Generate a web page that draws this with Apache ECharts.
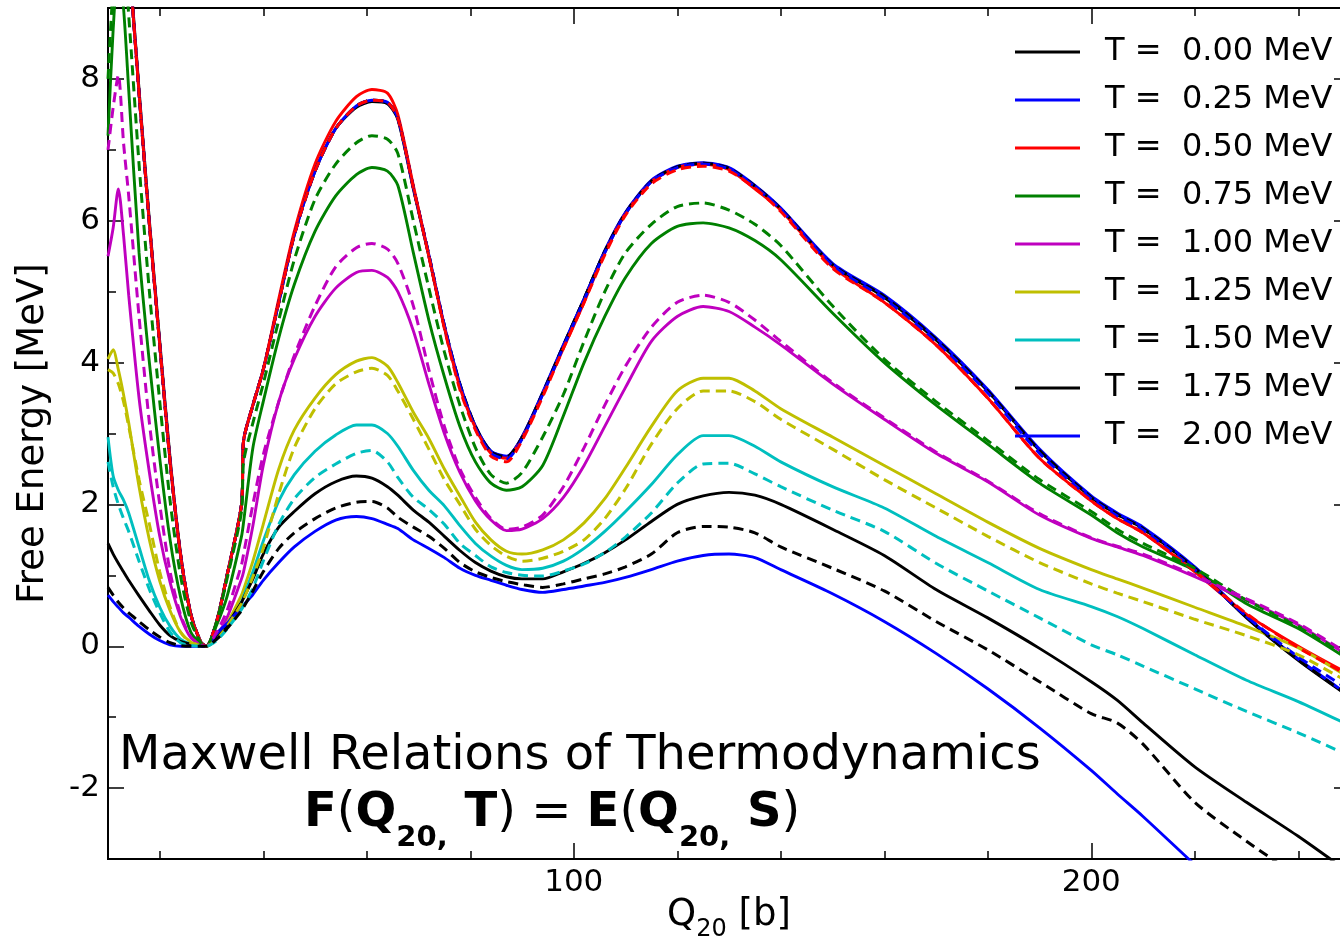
<!DOCTYPE html>
<html>
<head>
<meta charset="utf-8">
<script src="https://cdn.jsdelivr.net/npm/echarts@6/dist/echarts.min.js"></script>
<style>
  html, body { margin: 0; padding: 0; background: #ffffff; }
  #chart { width: 1340px; height: 943px; }
</style>
</head>
<body>
<div id="chart"></div>
<script>
// Quadrupole moment grid Q20 [b]
const q20 = [10, 11, 12, 13, 14, 16, 18, 20, 22, 24, 26, 28, 29,
  31, 33, 35.8, 36.2, 38, 40, 43, 46, 50, 54, 58, 61,
  64, 66, 69, 72, 75, 78, 81, 84, 87, 90, 94, 98,
  102, 106, 110, 115, 120, 125, 130, 135, 140,
  150, 160, 170, 180, 190, 200, 205, 210, 220, 230, 240, 250];

// Free energy F(Q20, T) [MeV], solid curves
const f000 = [13.6, 12.7, 11.7, 10.8, 9.8, 7.85, 6.0, 4.3, 2.65, 1.32, 0.46, 0.05, 0,
  0.35, 1.0, 2.0, 2.9, 3.4, 3.9, 4.85, 5.8, 6.7, 7.3, 7.6, 7.68,
  7.65, 7.43, 6.45, 5.5, 4.5, 3.68, 3.1, 2.75, 2.67, 2.95, 3.57, 4.24,
  4.9, 5.57, 6.11, 6.56, 6.76, 6.81, 6.74, 6.48, 6.17,
  5.38, 4.92, 4.32, 3.6, 2.76, 2.1, 1.86, 1.66, 1.1, 0.4, -0.2, -0.72];
const f025 = [13.5, 12.6, 11.6, 10.7, 9.75, 7.8, 5.95, 4.25, 2.6, 1.3, 0.45, 0.05, 0,
  0.35, 1.0, 2.0, 2.9, 3.4, 3.9, 4.85, 5.8, 6.7, 7.3, 7.62, 7.7,
  7.67, 7.45, 6.47, 5.52, 4.52, 3.7, 3.1, 2.75, 2.68, 2.95, 3.58, 4.25,
  4.9, 5.58, 6.12, 6.57, 6.77, 6.82, 6.75, 6.5, 6.18,
  5.4, 4.95, 4.35, 3.62, 2.78, 2.12, 1.88, 1.68, 1.12, 0.42, -0.18, -0.7];
const f050 = [13.5, 12.6, 11.6, 10.7, 9.75, 7.8, 5.95, 4.25, 2.6, 1.3, 0.45, 0.05, 0,
  0.35, 1.0, 2.0, 2.9, 3.4, 3.9, 4.9, 5.85, 6.8, 7.4, 7.75, 7.85,
  7.8, 7.5, 6.5, 5.5, 4.5, 3.65, 3.08, 2.72, 2.65, 2.93, 3.55, 4.2,
  4.85, 5.55, 6.1, 6.55, 6.75, 6.8, 6.72, 6.45, 6.15,
  5.35, 4.85, 4.25, 3.5, 2.65, 2.05, 1.8, 1.6, 1.05, 0.45, 0.0, -0.4];
const f075 = [7.2, 8.7, 9.6, 9.0, 7.85, 5.55, 4.0, 2.65, 1.5, 0.7, 0.2, 0.03, 0,
  0.3, 0.7, 1.55, 1.75, 2.8, 3.45, 4.35, 5.1, 5.85, 6.35, 6.65, 6.75,
  6.7, 6.5, 5.55, 4.6, 3.8, 3.1, 2.6, 2.3, 2.2, 2.25, 2.55, 3.25,
  4.0, 4.65, 5.2, 5.68, 5.92, 5.97, 5.9, 5.72, 5.45,
  4.7, 4.0, 3.4, 2.85, 2.3, 1.85, 1.6, 1.4, 1.07, 0.6, 0.25, -0.2];
const f100 = [5.5, 5.9, 6.45, 5.8, 4.95, 3.5, 2.45, 1.55, 0.9, 0.42, 0.12, 0.02, 0,
  0.15, 0.4, 0.95, 1.05, 1.7, 2.55, 3.45, 4.05, 4.65, 5.05, 5.27, 5.3,
  5.2, 5.0, 4.45, 3.7, 3.0, 2.45, 2.05, 1.78, 1.63, 1.65, 1.8, 2.1,
  2.55, 3.1, 3.65, 4.3, 4.65, 4.79, 4.72, 4.5, 4.25,
  3.7, 3.2, 2.72, 2.32, 1.85, 1.52, 1.4, 1.28, 0.98, 0.65, 0.3, -0.15];
const f125 = [4.05, 4.18, 3.9, 3.55, 3.15, 2.25, 1.5, 0.92, 0.5, 0.2, 0.06, 0.01, 0,
  0.12, 0.32, 0.72, 0.8, 1.2, 1.72, 2.5, 3.05, 3.5, 3.83, 4.02, 4.07,
  3.95, 3.72, 3.3, 2.93, 2.5, 2.12, 1.75, 1.5, 1.34, 1.3, 1.36, 1.5,
  1.74, 2.08, 2.52, 3.1, 3.6, 3.78, 3.78, 3.6, 3.35,
  2.95, 2.55, 2.15, 1.75, 1.38, 1.08, 0.95, 0.82, 0.55, 0.28, -0.02, -0.45];
const f150 = [2.95, 2.4, 2.2, 2.06, 1.88, 1.4, 0.92, 0.55, 0.28, 0.1, 0.03, 0, 0,
  0.1, 0.28, 0.62, 0.7, 1.05, 1.48, 2.05, 2.42, 2.75, 2.98, 3.12, 3.12,
  3.0, 2.82, 2.48, 2.2, 1.98, 1.7, 1.45, 1.27, 1.14, 1.08, 1.1, 1.2,
  1.38, 1.62, 1.9, 2.28, 2.7, 2.97, 2.97, 2.82, 2.6,
  2.25, 1.95, 1.55, 1.18, 0.8, 0.56, 0.42, 0.25, -0.12, -0.48, -0.78, -1.12];
const f175 = [1.45, 1.3, 1.17, 1.05, 0.93, 0.71, 0.5, 0.3, 0.15, 0.07, 0.03, 0.01, 0,
  0.12, 0.3, 0.62, 0.68, 0.95, 1.3, 1.68, 1.9, 2.15, 2.32, 2.4, 2.37,
  2.25, 2.13, 1.92, 1.75, 1.55, 1.35, 1.18, 1.06, 0.98, 0.95, 0.95, 1.05,
  1.17, 1.32, 1.5, 1.76, 2.0, 2.12, 2.17, 2.13, 2.0,
  1.65, 1.28, 0.8, 0.4, -0.03, -0.5, -0.76, -1.08, -1.7, -2.2, -2.68, -3.2];
const f200 = [0.72, 0.63, 0.55, 0.47, 0.41, 0.28, 0.17, 0.08, 0.02, 0, 0, 0, 0,
  0.18, 0.32, 0.55, 0.58, 0.73, 0.93, 1.18, 1.4, 1.62, 1.78, 1.83, 1.8,
  1.72, 1.66, 1.5, 1.38, 1.25, 1.1, 1.0, 0.93, 0.86, 0.8, 0.76, 0.8,
  0.85, 0.9, 0.97, 1.08, 1.2, 1.28, 1.3, 1.25, 1.08,
  0.74, 0.35, -0.1, -0.6, -1.15, -1.75, -2.08, -2.4, -3.08, -3.75, -4.4, -5.1];

// Energy E(Q20, S) at the matching entropy [MeV], dashed curves
const e000 = [13.5, 12.6, 11.6, 10.7, 9.75, 7.8, 5.95, 4.25, 2.6, 1.3, 0.45, 0.05, 0,
  0.35, 1.0, 2.0, 2.9, 3.4, 3.9, 4.85, 5.8, 6.7, 7.3, 7.62, 7.7,
  7.67, 7.45, 6.47, 5.52, 4.52, 3.7, 3.1, 2.74, 2.67, 2.94, 3.57, 4.24,
  4.9, 5.57, 6.11, 6.56, 6.76, 6.81, 6.74, 6.49, 6.17,
  5.38, 4.93, 4.33, 3.6, 2.76, 2.1, 1.86, 1.66, 1.1, 0.41, -0.19, -0.71];
const e025 = [13.5, 12.6, 11.6, 10.7, 9.75, 7.8, 5.95, 4.25, 2.6, 1.3, 0.45, 0.05, 0,
  0.35, 1.0, 2.0, 2.9, 3.4, 3.9, 4.85, 5.8, 6.7, 7.3, 7.62, 7.7,
  7.67, 7.45, 6.47, 5.52, 4.52, 3.68, 3.08, 2.72, 2.64, 2.92, 3.55, 4.22,
  4.88, 5.55, 6.1, 6.55, 6.75, 6.8, 6.73, 6.48, 6.16,
  5.37, 4.9, 4.3, 3.57, 2.72, 2.08, 1.84, 1.64, 1.08, 0.42, -0.15, -0.62];
const e050 = [13.5, 12.6, 11.6, 10.7, 9.75, 7.8, 5.95, 4.25, 2.6, 1.3, 0.45, 0.05, 0,
  0.35, 1.0, 2.0, 2.9, 3.4, 3.9, 4.85, 5.8, 6.7, 7.3, 7.62, 7.7,
  7.67, 7.45, 6.47, 5.5, 4.48, 3.62, 3.05, 2.68, 2.6, 2.9, 3.52, 4.2,
  4.85, 5.52, 6.08, 6.52, 6.72, 6.77, 6.7, 6.46, 6.13,
  5.33, 4.85, 4.25, 3.5, 2.65, 2.05, 1.8, 1.6, 1.06, 0.46, -0.02, -0.42];
const e075 = [8.0, 9.3, 10.0, 9.8, 8.9, 6.8, 5.0, 3.45, 2.05, 1.0, 0.35, 0.04, 0,
  0.35, 0.95, 1.9, 2.6, 3.15, 3.7, 4.6, 5.45, 6.3, 6.8, 7.1, 7.2,
  7.15, 6.95, 6.0, 5.05, 4.15, 3.4, 2.8, 2.42, 2.3, 2.45, 2.95, 3.55,
  4.3, 5.0, 5.55, 5.95, 6.2, 6.25, 6.15, 5.95, 5.65,
  4.8, 4.05, 3.45, 2.9, 2.35, 1.9, 1.65, 1.45, 1.1, 0.65, 0.28, -0.15];
const e100 = [7.0, 7.6, 8.05, 7.1, 6.35, 4.65, 3.15, 2.0, 1.05, 0.45, 0.13, 0.02, 0,
  0.2, 0.5, 1.15, 1.3, 2.0, 2.7, 3.45, 4.1, 4.8, 5.35, 5.62, 5.68,
  5.6, 5.4, 4.8, 3.9, 3.1, 2.5, 2.1, 1.8, 1.65, 1.68, 1.85, 2.25,
  2.8, 3.4, 3.95, 4.5, 4.85, 4.95, 4.85, 4.6, 4.3,
  3.72, 3.22, 2.74, 2.33, 1.87, 1.53, 1.41, 1.3, 1.0, 0.67, 0.32, -0.12];
const e125 = [3.9, 3.85, 3.7, 3.45, 3.1, 2.35, 1.72, 1.05, 0.55, 0.2, 0.05, 0.01, 0,
  0.1, 0.28, 0.6, 0.66, 0.98, 1.38, 2.15, 2.8, 3.35, 3.7, 3.87, 3.92,
  3.82, 3.6, 3.2, 2.78, 2.35, 2.0, 1.65, 1.42, 1.27, 1.2, 1.24, 1.34,
  1.5, 1.8, 2.22, 2.85, 3.35, 3.6, 3.6, 3.45, 3.2,
  2.78, 2.35, 1.95, 1.55, 1.18, 0.88, 0.75, 0.63, 0.38, 0.15, -0.12, -0.52];
const e150 = [2.6, 2.25, 2.0, 1.8, 1.62, 1.2, 0.8, 0.47, 0.2, 0.05, 0.01, 0, 0,
  0.08, 0.24, 0.52, 0.57, 0.82, 1.2, 1.72, 2.08, 2.38, 2.57, 2.72, 2.76,
  2.6, 2.38, 2.1, 1.93, 1.72, 1.45, 1.28, 1.12, 1.04, 1.0, 0.99, 1.06,
  1.16, 1.32, 1.54, 1.88, 2.3, 2.57, 2.58, 2.43, 2.25,
  1.92, 1.62, 1.17, 0.78, 0.4, 0.02, -0.12, -0.28, -0.6, -0.92, -1.22, -1.55];
const e175 = [0.83, 0.72, 0.62, 0.54, 0.47, 0.35, 0.23, 0.13, 0.05, 0.01, 0, 0, 0,
  0.1, 0.25, 0.5, 0.55, 0.78, 1.05, 1.38, 1.6, 1.8, 1.95, 2.03, 2.04,
  1.95, 1.82, 1.68, 1.55, 1.38, 1.18, 1.05, 0.97, 0.91, 0.87, 0.83, 0.88,
  0.95, 1.02, 1.12, 1.3, 1.6, 1.69, 1.68, 1.6, 1.4,
  1.1, 0.78, 0.35, -0.05, -0.5, -0.95, -1.08, -1.38, -2.2, -2.75, -3.25, -3.75];

// Temperatures and tick positions
const temperatures = ['0.00', '0.25', '0.50', '0.75', '1.00', '1.25', '1.50', '1.75', '2.00'];
const xMajorTicks = [100, 200];
const xMinorTicks = [20, 40, 60, 80, 120, 140, 160, 180, 220, 240];
const yMajorTicks = [-2, 0, 2, 4, 6, 8];
const yMinorTicks = [-1, 1, 3, 5, 7];

const solidCurves = [f000, f025, f050, f075, f100, f125, f150, f175, f200];
const dashedCurves = [e000, e025, e050, e075, e100, e125, e150, e175];
const lineColors = ['#000000', '#0000ff', '#ff0000', '#008000', '#bf00bf',
  '#bfbf00', '#00bfbf', '#000000', '#0000ff'];

const FONT = 'DejaVu Sans';
const legendName = t => 'T =  ' + t + ' MeV';
const pairs = ys => q20.map((q, i) => [q, ys[i]]);

// Text runs with sub-scripts: pieces laid out left to right on a shared baseline
const measureCtx = document.createElement('canvas').getContext('2d');
function textWidth(text, size, weight) {
  measureCtx.font = weight + ' ' + size + 'px "' + FONT + '"';
  return measureCtx.measureText(text).width;
}
function textRun(pieces, startX, baseline, centered) {
  const total = pieces.reduce((s, p) => s + textWidth(p.text, p.size, p.weight), 0);
  let x = centered ? startX - total / 2 : startX;
  return pieces.map(p => {
    const el = {
      type: 'text', x: x, y: baseline + (p.drop || 0) - 0.346 * p.size, z: 50, silent: true,
      style: { text: p.text, fontFamily: FONT, fontSize: p.size, fontWeight: p.weight,
               fill: '#000', align: 'left', verticalAlign: 'middle' }
    };
    x += textWidth(p.text, p.size, p.weight);
    return el;
  });
}
const B = 'bold', N = 'normal';
const formulaPieces = [
  { text: 'F', size: 48, weight: B }, { text: '(', size: 48, weight: N },
  { text: 'Q', size: 48, weight: B }, { text: '20,', size: 29, weight: B, drop: 19 },
  { text: ' T', size: 48, weight: B }, { text: ') = ', size: 48, weight: N },
  { text: 'E', size: 48, weight: B }, { text: '(', size: 48, weight: N },
  { text: 'Q', size: 48, weight: B }, { text: '20,', size: 29, weight: B, drop: 19 },
  { text: ' S', size: 48, weight: B }, { text: ')', size: 48, weight: N }
];
const xNamePieces = [
  { text: 'Q', size: 37, weight: N }, { text: '20', size: 24, weight: N, drop: 10 },
  { text: ' [b]', size: 37, weight: N }
];

const series = [];
solidCurves.forEach((ys, i) => {
  series.push({
    name: legendName(temperatures[i]), type: 'line', data: pairs(ys),
    symbol: 'none', smooth: 0.25, clip: true,
    lineStyle: { color: lineColors[i], width: 2.9, type: 'solid' },
    itemStyle: { color: lineColors[i] }
  });
});
dashedCurves.forEach((ys, i) => {
  series.push({
    name: 'E(S) ' + temperatures[i], type: 'line', data: pairs(ys),
    symbol: 'none', smooth: 0.25, clip: true,
    lineStyle: { color: lineColors[i], width: 3, type: [10, 6] },
    itemStyle: { color: lineColors[i] }
  });
});

const tickLine = { color: '#000', width: 1.5 };
const baseX = {
  type: 'value', min: 10, max: 250, splitLine: { show: false },
  axisLine: { show: false, onZero: false }, axisLabel: { show: false }
};
const baseY = {
  type: 'value', min: -3, max: 9, splitLine: { show: false },
  axisLine: { show: false, onZero: false }, axisLabel: { show: false }
};

const gridLeft = 108, gridRightEdge = 1350;

const chart = echarts.init(document.getElementById('chart'), null, { renderer: 'canvas' });
chart.setOption({
  animation: false,
  backgroundColor: '#ffffff',
  grid: { left: gridLeft, right: 1340 - gridRightEdge, top: 8, bottom: 84, show: true,
    containLabel: false, outerBoundsMode: 'none',
    borderColor: '#000', borderWidth: 2, backgroundColor: 'transparent' },
  title: [
    { text: 'Maxwell Relations of Thermodynamics', left: 119, top: 729, padding: 0,
      textStyle: { fontFamily: FONT, fontSize: 48, fontWeight: 'normal', color: '#000', lineHeight: 56 } }
  ],
  graphic: {
    elements: textRun(formulaPieces, 304, 830, false)
      .concat(textRun(xNamePieces, (gridLeft + gridRightEdge) / 2, 928, true))
  },
  legend: {
    data: temperatures.map(legendName),
    orient: 'vertical', left: 1015, top: 36, padding: 0,
    icon: 'rect', itemWidth: 65, itemHeight: 3, itemGap: 16, selectedMode: false,
    textStyle: { fontFamily: FONT, fontSize: 32, color: '#000', lineHeight: 32, padding: [0, 0, 0, 20] }
  },
  xAxis: [
    Object.assign({}, baseX, {
      position: 'bottom',
      axisTick: { show: true, inside: true, length: 16, customValues: xMajorTicks, lineStyle: tickLine },
      axisLabel: { show: true, customValues: xMajorTicks, fontFamily: FONT, fontSize: 31, color: '#000', margin: 8 }
    }),
    Object.assign({}, baseX, { position: 'bottom',
      axisTick: { show: true, inside: true, length: 8, customValues: xMinorTicks, lineStyle: tickLine } }),
    Object.assign({}, baseX, { position: 'top',
      axisTick: { show: true, inside: true, length: 16, customValues: xMajorTicks, lineStyle: tickLine } }),
    Object.assign({}, baseX, { position: 'top',
      axisTick: { show: true, inside: true, length: 8, customValues: xMinorTicks, lineStyle: tickLine } })
  ],
  yAxis: [
    Object.assign({}, baseY, {
      position: 'left',
      axisTick: { show: true, inside: true, length: 16, customValues: yMajorTicks, lineStyle: tickLine },
      axisLabel: { show: true, customValues: yMajorTicks, fontFamily: FONT, fontSize: 31, color: '#000', margin: 8 },
      name: 'Free Energy [MeV]', nameLocation: 'middle', nameGap: 56, nameRotate: 90,
      nameTextStyle: { fontFamily: FONT, fontSize: 37, color: '#000' }
    }),
    Object.assign({}, baseY, { position: 'left',
      axisTick: { show: true, inside: true, length: 8, customValues: yMinorTicks, lineStyle: tickLine } }),
    Object.assign({}, baseY, { position: 'right',
      axisTick: { show: true, inside: true, length: 16, customValues: yMajorTicks, lineStyle: tickLine } }),
    Object.assign({}, baseY, { position: 'right',
      axisTick: { show: true, inside: true, length: 8, customValues: yMinorTicks, lineStyle: tickLine } })
  ],
  series: series
});
</script>
</body>
</html>
